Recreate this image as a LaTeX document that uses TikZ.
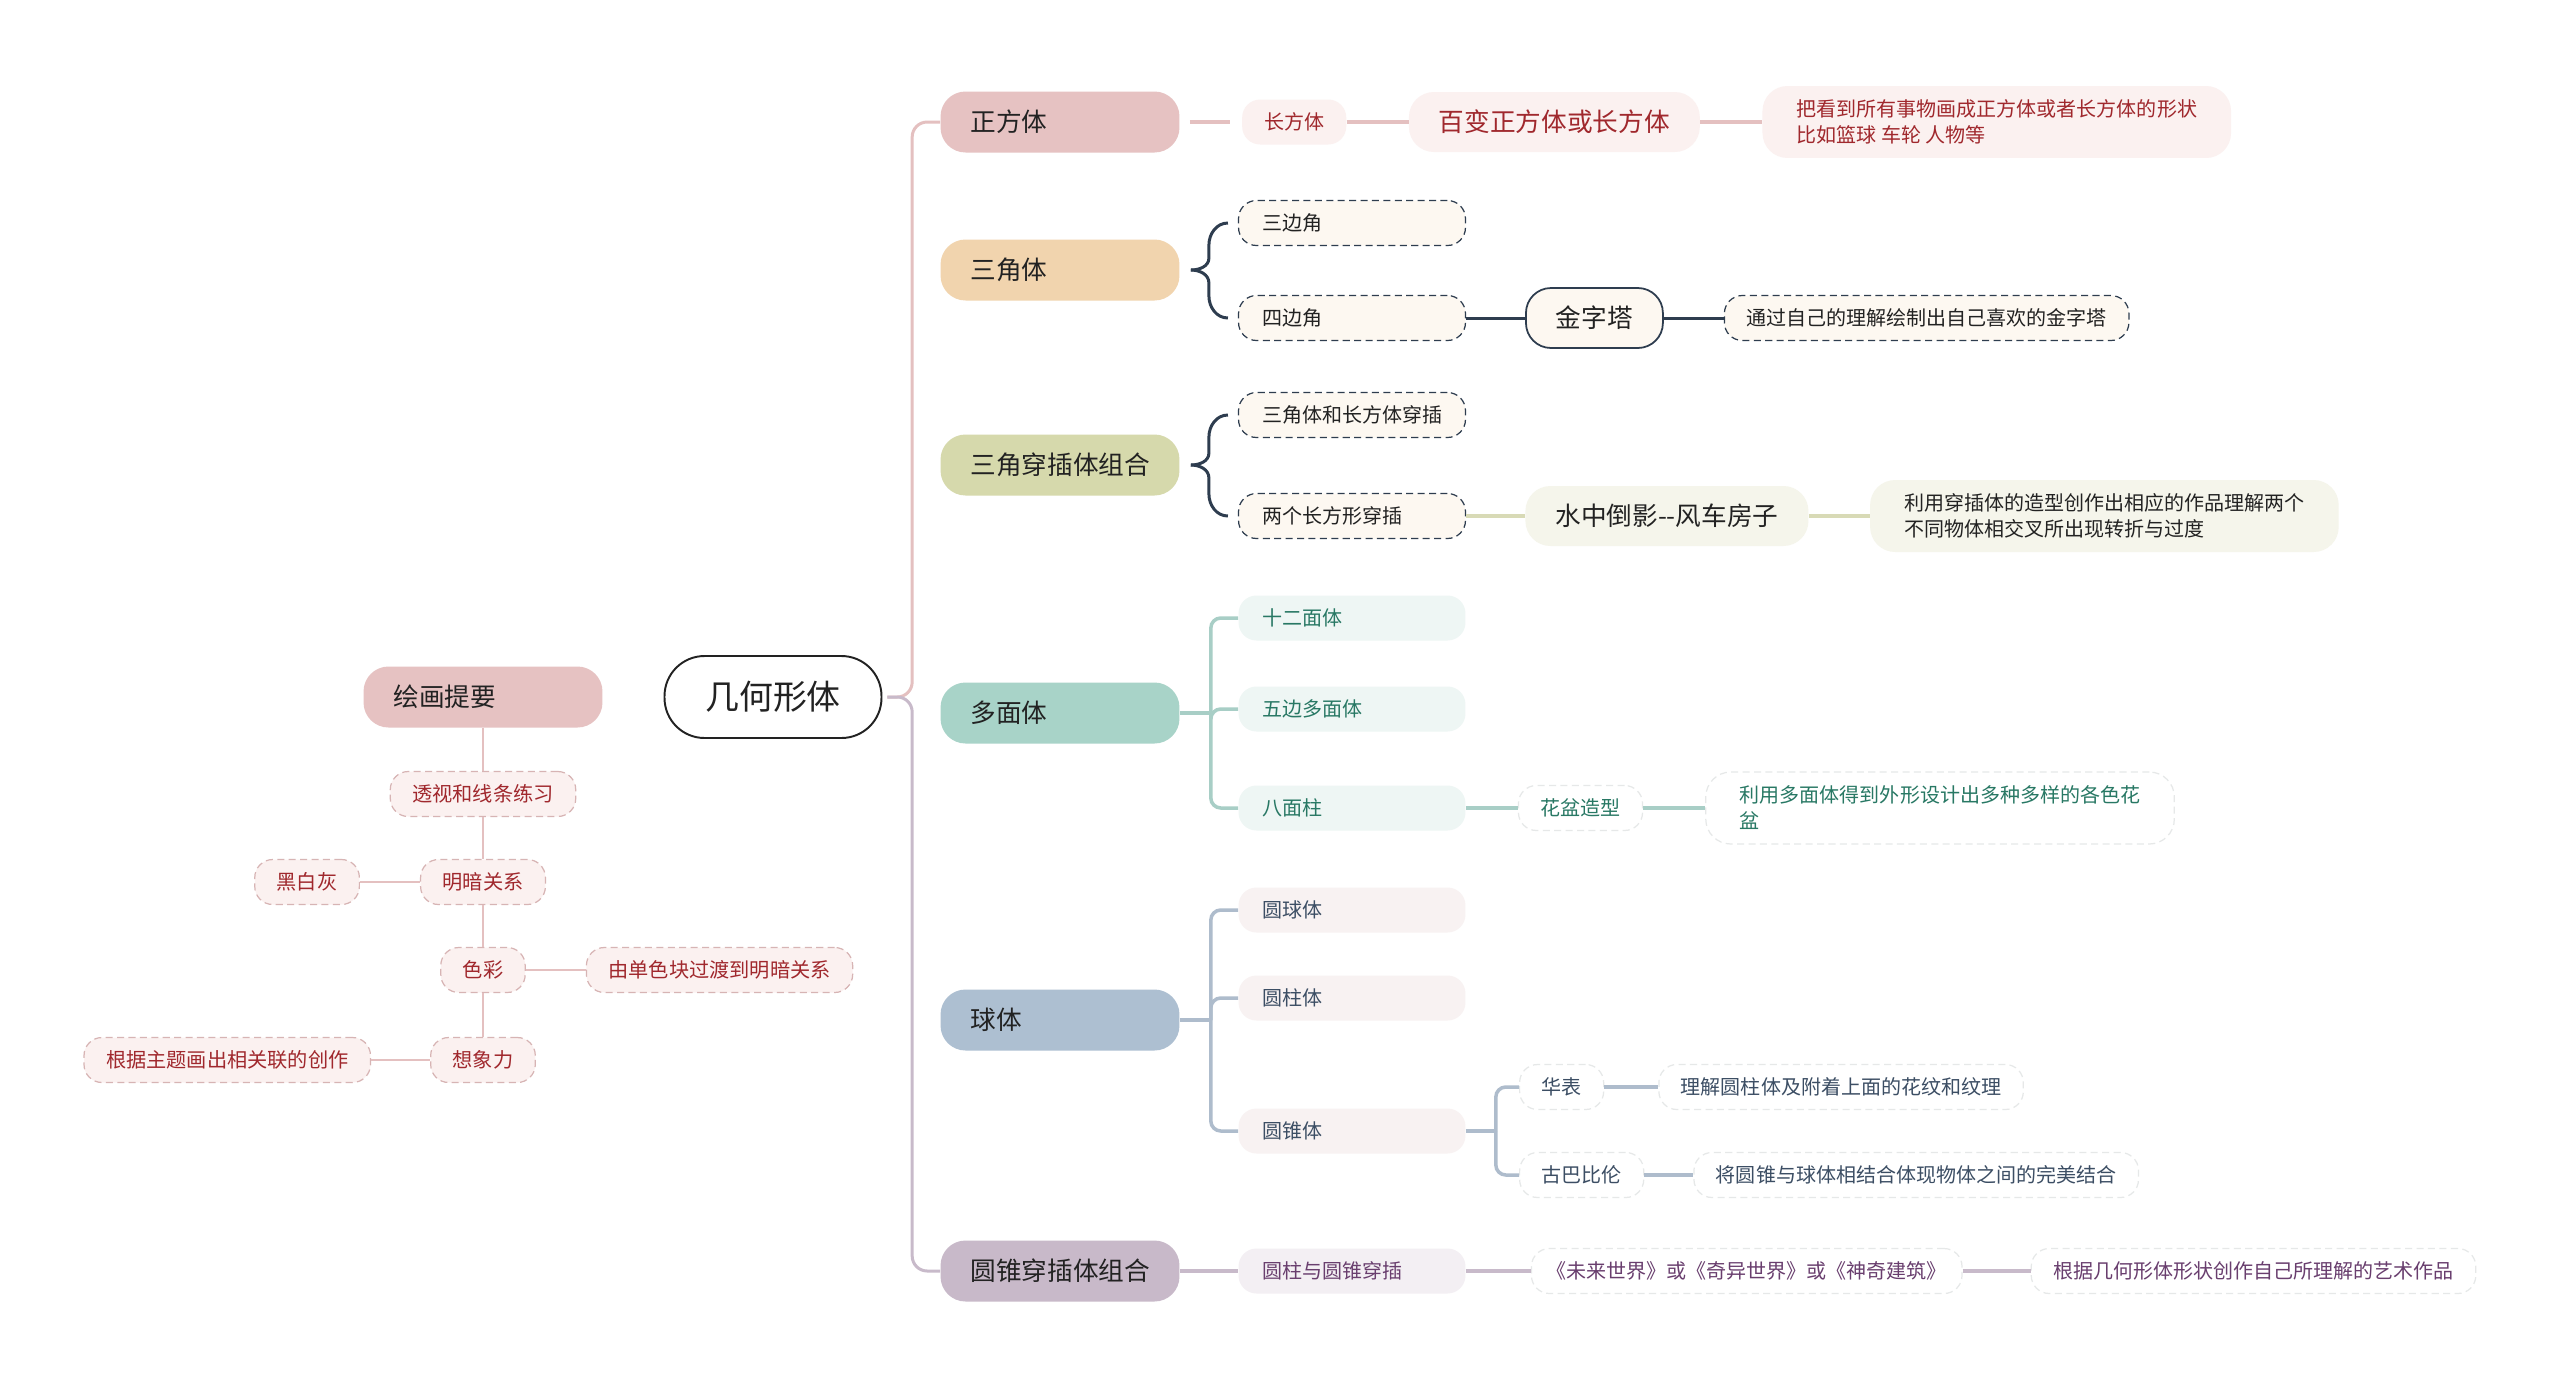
\documentclass[tikz,border=0pt]{standalone}
\usepackage{fontspec}
\setmainfont{Noto Sans CJK SC}
\usepackage{tikz}
\usetikzlibrary{positioning, calc}
\definecolor{darktext}{RGB}{34,34,34}
\definecolor{zfpink}{RGB}{230,194,194}
\definecolor{sjpeach}{RGB}{241,212,174}
\definecolor{ccolive}{RGB}{214,217,172}
\definecolor{dmteal}{RGB}{168,211,200}
\definecolor{qtblue}{RGB}{173,191,209}
\definecolor{yzlilac}{RGB}{200,185,201}
\definecolor{pinksub}{RGB}{251,241,240}
\definecolor{creamsub}{RGB}{253,248,241}
\definecolor{olivesub}{RGB}{245,245,235}
\definecolor{tealsub}{RGB}{238,246,244}
\definecolor{bluesub}{RGB}{248,242,242}
\definecolor{lilacsub}{RGB}{243,239,243}
\definecolor{redtext}{RGB}{160,40,45}
\definecolor{tealtext}{RGB}{40,120,100}
\definecolor{slatetext}{RGB}{60,78,100}
\definecolor{purpletext}{RGB}{105,62,110}
\definecolor{navyline}{RGB}{46,61,79}
\definecolor{pinkline}{RGB}{228,192,192}
\definecolor{oliveline}{RGB}{216,218,182}
\definecolor{tealline}{RGB}{168,206,198}
\definecolor{blueline}{RGB}{174,188,204}
\definecolor{lilacline}{RGB}{200,186,202}
\definecolor{leftdash}{RGB}{215,180,180}
\definecolor{faintdash}{RGB}{230,232,232}
\tikzset{
  rootbox/.style={
    draw=darktext, line width=1.1pt, fill=white, rounded corners=0.8cm,
    minimum width=4.34cm, minimum height=1.64cm,
    font=\fontsize{19.3}{22}\selectfont, text=darktext
  },
  mainbox/.style={
    rounded corners=0.5cm, minimum height=1.22cm, text width=3.58cm,
    inner xsep=0.6cm, align=left, font=\fontsize{14.6}{17}\selectfont,
    text=darktext
  },
  midbox/.style={
    rounded corners=0.5cm, minimum height=1.2cm, inner xsep=0.6cm,
    font=\fontsize{14.6}{17}\selectfont, text=darktext
  },
  subbox/.style={
    rounded corners=0.36cm, minimum height=0.9cm, text width=3.58cm,
    inner xsep=0.48cm, align=left, font=\fontsize{11.4}{14.8}\selectfont,
    text=darktext
  },
  leafbox/.style={
    rounded corners=0.36cm, minimum height=0.9cm, inner xsep=0.44cm,
    font=\fontsize{11.4}{14.8}\selectfont, text=darktext
  },
  notebox/.style={
    rounded corners=0.5cm, minimum height=1.44cm, inner xsep=0.68cm,
    align=left, font=\fontsize{11.4}{14.8}\selectfont, text=darktext
  },
  dashline/.style={dash pattern=on 4pt off 2.5pt, line width=0.7pt},
  navybox/.style={subbox, fill=creamsub, draw=navyline, dashline},
  leftbox/.style={
    leafbox, fill=pinksub, draw=leftdash, dashline, text=redtext,
    font=\fontsize{11.5}{14}\selectfont
  },
  whitebox/.style={fill=white, draw=faintdash, dashline},
  pinktrunk/.style={draw=pinkline, line width=1.7pt, rounded corners=0.3cm},
  lilactrunk/.style={draw=lilacline, line width=1.7pt, rounded corners=0.3cm},
  pinkedge/.style={draw=pinkline, line width=2.2pt},
  navyedge/.style={draw=navyline, line width=1.7pt},
  oliveedge/.style={draw=oliveline, line width=2pt},
  tealedge/.style={draw=tealline, line width=2pt},
  blueedge/.style={draw=blueline, line width=2pt},
  lilacedge/.style={draw=lilacline, line width=2pt},
}

\begin{document}
\begin{tikzpicture}[x=0.02cm, y=-0.02cm]

		\useasboundingbox (0,0) rectangle (2560,1387);
		\fill[white] (0,0) rectangle (2560,1387);

		%% Root
		\node[rootbox] (root) at (773,697) {几何形体};

		%% Main branches
		\node[mainbox, fill=zfpink]  (zfang)   at (1060,122)  {正方体};
		\node[mainbox, fill=sjpeach] (sjiao)   at (1060,270)  {三角体};
		\node[mainbox, fill=ccolive] (sjcc)    at (1060,465)  {三角穿插体组合};
		\node[mainbox, fill=dmteal]  (duomian) at (1060,713)  {多面体};
		\node[mainbox, fill=qtblue]  (qiuti)   at (1060,1020) {球体};
		\node[mainbox, fill=yzlilac] (yzcc)    at (1060,1271) {圆锥穿插体组合};

		%% Trunk
		\draw[pinktrunk] ([xshift=0.1cm]root.east)
		-| ($(zfang.west)+(-28,0)$) -- (zfang.west);
		\draw[lilactrunk] ([xshift=0.1cm]root.east)
		-| ($(yzcc.west)+(-28,0)$) -- (yzcc.west);

		%% 正方体
		\node[leafbox, fill=pinksub, text=redtext, right=1.24cm of zfang]
		(cfang) {长方体};
		\node[midbox, fill=pinksub, text=redtext, right=1.24cm of cfang]
		(bbian) {百变正方体或长方体};
		\node[notebox, fill=pinksub, text=redtext, right=1.24cm of bbian]
		(bkan)  {把看到所有事物画成正方体或者长方体的形状\\比如篮球 车轮 人物等};
		\draw[pinkedge, shorten <=0.2cm, shorten >=0.24cm] (zfang) -- (cfang);
		\foreach \from/\to in {cfang/bbian, bbian/bkan}
		\draw[pinkedge] (\from) -- (\to);

		%% 三角体
		\node[navybox] (sanbian) at (1352,223) {三边角};
		\node[navybox] (sibian)  at (1352,318) {四边角};
		\node[midbox, fill=creamsub, draw=navyline, line width=1pt,
			right=1.18cm of sibian] (jzt) {金字塔};
		\node[leafbox, fill=creamsub, draw=navyline, dashline,
			right=1.2cm of jzt] (tongguo) {通过自己的理解绘制出自己喜欢的金字塔};
		\draw[navyedge] ([xshift=-0.2cm]sanbian.west) to[out=180,in=90] ++(-19,22)
		-- ++(0,13) to[out=-90,in=0] ([xshift=0.22cm]sjiao.east);
		\draw[navyedge] ([xshift=-0.2cm]sibian.west) to[out=180,in=-90] ++(-19,-22)
		-- ++(0,-13) to[out=90,in=0] ([xshift=0.22cm]sjiao.east);
		\foreach \from/\to in {sibian/jzt, jzt/tongguo}
		\draw[navyedge] (\from) -- (\to);

		%% 三角穿插体组合
		\node[navybox] (sjcf) at (1352,415) {三角体和长方体穿插};
		\node[navybox] (lgcf) at (1352,516) {两个长方形穿插};
		\node[midbox, fill=olivesub, right=1.18cm of lgcf]
		(szdy) {水中倒影-\kern0pt-风车房子};
		\node[notebox, fill=olivesub, right=1.22cm of szdy]
		(lycc) {利用穿插体的造型创作出相应的作品理解两个\\不同物体相交叉所出现转折与过度};
		\draw[navyedge] ([xshift=-0.2cm]sjcf.west) to[out=180,in=90] ++(-19,22)
		-- ++(0,16) to[out=-90,in=0] ([xshift=0.22cm]sjcc.east);
		\draw[navyedge] ([xshift=-0.2cm]lgcf.west) to[out=180,in=-90] ++(-19,-22)
		-- ++(0,-16) to[out=90,in=0] ([xshift=0.22cm]sjcc.east);
		\foreach \from/\to in {lgcf/szdy, szdy/lycc}
		\draw[oliveedge] (\from) -- (\to);

		%% 多面体
		\node[subbox, fill=tealsub, text=tealtext] (shier)  at (1352,618) {十二面体};
		\node[subbox, fill=tealsub, text=tealtext] (wubian) at (1352,709) {五边多面体};
		\node[subbox, fill=tealsub, text=tealtext] (bamian) at (1352,808) {八面柱};
		\node[leafbox, whitebox, text=tealtext, right=1.04cm of bamian]
		(huapen) {花盆造型};
		\node[notebox, whitebox, text=tealtext, right=1.24cm of huapen]
		(lyduo) {利用多面体得到外形设计出多种多样的各色花\\盆};
		\draw[tealedge] (duomian.east) -- ++(31,0) coordinate (dmfork);
		\foreach \kid in {shier, wubian, bamian}
		\draw[tealedge, rounded corners=0.2cm] (dmfork) |- (\kid.west);
		\foreach \from/\to in {bamian/huapen, huapen/lyduo}
		\draw[tealedge] (\from) -- (\to);

		%% 球体
		\node[subbox, fill=bluesub, text=slatetext] (yuanqiu)  at (1352,910)  {圆球体};
		\node[subbox, fill=bluesub, text=slatetext] (yuanzhu)  at (1352,998)  {圆柱体};
		\node[subbox, fill=bluesub, text=slatetext] (yuanzhui) at (1352,1131) {圆锥体};
		\node[leafbox, whitebox, text=slatetext, anchor=west]
		(huabiao) at (1519,1087) {华表};
		\node[leafbox, whitebox, text=slatetext, anchor=west]
		(gubabilun) at (1519,1175) {古巴比伦};
		\node[leafbox, whitebox, text=slatetext, right=1.08cm of huabiao]
		(lijie) {理解圆柱体及附着上面的花纹和纹理};
		\node[leafbox, whitebox, text=slatetext, right=0.98cm of gubabilun]
		(jiang) {将圆锥与球体相结合体现物体之间的完美结合};
		\draw[blueedge] (qiuti.east) -- ++(31,0) coordinate (qtfork);
		\foreach \kid in {yuanqiu, yuanzhu, yuanzhui}
		\draw[blueedge, rounded corners=0.2cm] (qtfork) |- (\kid.west);
		\draw[blueedge] (yuanzhui.east) -- ++(30,0) coordinate (yzfork);
		\foreach \kid in {huabiao, gubabilun}
		\draw[blueedge, rounded corners=0.2cm] (yzfork) |- (\kid.west);
		\foreach \from/\to in {huabiao/lijie, gubabilun/jiang}
		\draw[blueedge] (\from) -- (\to);

		%% 圆锥穿插体组合
		\node[subbox, fill=lilacsub, text=purpletext] (yzcr) at (1352,1271) {圆柱与圆锥穿插};
		\node[leafbox, whitebox, text=purpletext, inner xsep=0.3cm, right=1.3cm of yzcr]
		(weilai) {《未来世界》或《奇异世界》或《神奇建筑》};
		\node[leafbox, whitebox, text=purpletext, right=1.36cm of weilai]
		(genju) {根据几何形体形状创作自己所理解的艺术作品};
		\foreach \from/\to in {yzcc/yzcr, yzcr/weilai, weilai/genju}
		\draw[lilacedge] (\from) -- (\to);

		%% 绘画提要
		\node[mainbox, fill=zfpink] (huihua) at (483,697) {绘画提要};
		\node[leftbox] (toushi) at (483,794)  {透视和线条练习};
		\node[leftbox] (mingan) at (483,882)  {明暗关系};
		\node[leftbox] (secai)  at (483,970)  {色彩};
		\node[leftbox] (xiang)  at (483,1060) {想象力};
		\node[leftbox, left=1.2cm of mingan]  (hbh)   {黑白灰};
		\node[leftbox, right=1.2cm of secai]  (danse) {由单色块过渡到明暗关系};
		\node[leftbox, left=1.18cm of xiang]  (zhuti) {根据主题画出相关联的创作};
		\foreach \from/\to in {huihua/toushi, toushi/mingan, mingan/secai,
				secai/xiang, hbh/mingan, secai/danse, zhuti/xiang}
		\draw[pinkedge, line width=1.6pt] (\from) -- (\to);

	\end{tikzpicture}
\end{document}
